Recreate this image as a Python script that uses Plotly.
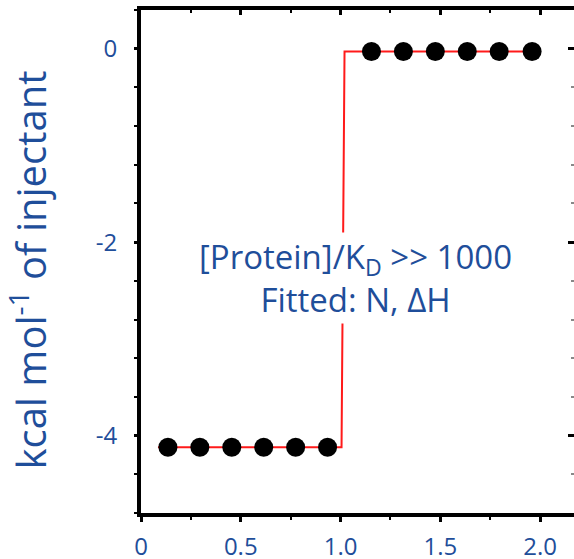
import plotly.graph_objects as go

# Data
molar_ratio = [0.135, 0.295, 0.455, 0.615, 0.775, 0.935,
               1.155, 1.315, 1.475, 1.635, 1.795, 1.96]
heat = [-4.12, -4.12, -4.12, -4.12, -4.12, -4.12,
        -0.03, -0.03, -0.03, -0.03, -0.03, -0.03]
fit_x = [0.085, 1.005, 1.02, 2.0]
fit_y = [-4.12, -4.12, -0.03, -0.03]

x_tickvals = [0, 0.5, 1.0, 1.5, 2.0]
x_ticktext = ["0", "0.5", "1.0", "1.5", "2.0"]
y_tickvals = [0, -2, -4]
y_ticktext = ["0", "-2", "-4"]

y_title = "kcal mol<sup>-1</sup> of injectant"
note = "[Protein]/K<sub>D</sub> >> 1000<br>Fitted: N, \u0394H"

BLUE = "#1f4e9a"
FONT = "Open Sans"
XR = [0.0, 2.17]
YR = [-4.80, 0.40]

fig = go.Figure()
fig.add_trace(go.Scatter(x=fit_x, y=fit_y, mode="lines",
                         line=dict(color="#ff1a1a", width=2),
                         hoverinfo="skip", showlegend=False))
fig.add_trace(go.Scatter(x=molar_ratio, y=heat, mode="markers",
                         marker=dict(color="black", size=19),
                         showlegend=False))
# invisible trace to anchor the secondary axes
fig.add_trace(go.Scatter(x=[None], y=[None], xaxis="x2", yaxis="y2",
                         showlegend=False, hoverinfo="skip"))

fig.update_layout(
    width=574, height=559,
    margin=dict(l=141, r=0, t=10, b=46, autoexpand=False),
    paper_bgcolor="white", plot_bgcolor="white",
    font=dict(family=FONT, color=BLUE),
    xaxis=dict(range=XR, tickvals=x_tickvals, ticktext=x_ticktext,
               automargin=False,
               showgrid=False, zeroline=False,
               showline=True, linecolor="black", linewidth=4,
               ticks="outside", ticklen=5, tickwidth=3, tickcolor="black",
               tickfont=dict(size=24, color=BLUE, family=FONT),
               ticklabelstandoff=4,
               minor=dict(dtick=0.25, tick0=0, ticks="outside", ticklen=3,
                          tickwidth=2, tickcolor="black")),
    xaxis2=dict(range=XR, overlaying="x", side="top", anchor="y",
                automargin=False,
                tickvals=x_tickvals, showticklabels=False,
                showgrid=False, zeroline=False,
                showline=True, linecolor="black", linewidth=4,
                ticks="inside", ticklen=5, tickwidth=3, tickcolor="black",
                minor=dict(dtick=0.25, tick0=0, ticks="inside", ticklen=3,
                           tickwidth=2, tickcolor="black")),
    yaxis=dict(range=YR, tickvals=y_tickvals, ticktext=y_ticktext,
               automargin=False,
               showgrid=False, zeroline=False,
               showline=True, linecolor="black", linewidth=4,
               ticks="outside", ticklen=3, tickwidth=3, tickcolor="black",
               tickfont=dict(size=24, color=BLUE, family=FONT),
               ticklabelstandoff=12,
               minor=dict(dtick=0.4, tick0=0, ticks="outside", ticklen=3,
                          tickwidth=2, tickcolor="black")),
    yaxis2=dict(range=YR, overlaying="y", side="right", anchor="x",
                automargin=False,
                tickvals=y_tickvals, showticklabels=False,
                showgrid=False, zeroline=False, showline=False,
                ticks="inside", ticklen=6, tickwidth=3, tickcolor="black",
                minor=dict(dtick=0.4, tick0=0, ticks="inside", ticklen=3,
                           tickwidth=2, tickcolor="#888888")),
    annotations=[
        dict(x=1.075, y=-2.37, xref="x", yref="y", text=note,
             showarrow=False, bgcolor="white",
             font=dict(size=33, color=BLUE, family=FONT), align="center"),
        dict(x=-0.2587, y=0.484, xref="paper", yref="paper", text=y_title,
             textangle=-90, showarrow=False, xanchor="center", yanchor="middle",
             font=dict(size=40, color=BLUE, family=FONT)),
    ],
)

fig.write_html("out.html")
